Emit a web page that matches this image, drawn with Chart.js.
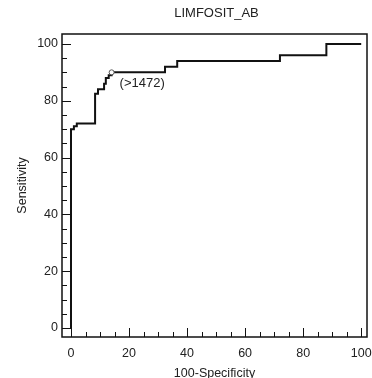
<!DOCTYPE html>
<html>
<head>
<meta charset="utf-8">
<script src="https://cdn.jsdelivr.net/npm/chart.js@4.4.1/dist/chart.umd.min.js"></script>
<style>
  html, body { margin: 0; padding: 0; background: #fff; }
  #wrap { width: 372px; height: 378px; }
</style>
</head>
<body>
<div id="wrap"><canvas id="rocChart" width="372" height="378"></canvas></div>
<script>
// ROC 曲线数据 (100-特异度, 灵敏度)
const fpr = [0, 0, 1, 2, 8.3, 9.3, 11.4, 12, 13, 14, 32.4, 36.6, 72, 88, 100];
const sens = [0, 70, 71, 72, 82.5, 84, 86, 88, 89, 90, 92, 94, 96, 100, 100];
const cutoffIndex = 9;
const cutoffLabel = '(>1472)';
const chartTitle = 'LIMFOSIT_AB';
const xTitle = '100-Specificity';
const yTitle = 'Sensitivity';
const majorStep = 20;
const minorStep = 5;

const FONT = 'Arial, "Liberation Sans", sans-serif';

// 外框、内向刻度、标题和截断点标注
const framePlugin = {
    id: 'frame',
    afterDraw(chart) {
        const ctx = chart.ctx;
        const area = chart.chartArea;
        const xs = chart.scales.x;
        const ys = chart.scales.y;
        ctx.save();
        ctx.strokeStyle = '#111';
        ctx.lineWidth = 1.5;
        ctx.strokeRect(area.left, area.top, area.right - area.left, area.bottom - area.top);

        ctx.lineWidth = 1;
        ctx.beginPath();
        for (let v = 0; v <= 100; v += minorStep) {
            const len = v % majorStep === 0 ? 9 : 5;
            const px = Math.round(xs.getPixelForValue(v)) + 0.5;
            ctx.moveTo(px, area.bottom);
            ctx.lineTo(px, area.bottom - len);
            const py = Math.round(ys.getPixelForValue(v)) + 0.5;
            ctx.moveTo(area.left, py);
            ctx.lineTo(area.left + len, py);
        }
        ctx.stroke();

        // 标题
        ctx.fillStyle = '#222';
        ctx.font = '13px ' + FONT;
        ctx.textAlign = 'center';
        ctx.textBaseline = 'middle';
        ctx.fillText(chartTitle, (area.left + area.right) / 2 + 2, 13);

        // 截断点标注
        const cx = xs.getPixelForValue(fpr[cutoffIndex]);
        const cy = ys.getPixelForValue(sens[cutoffIndex]);
        ctx.font = '13px ' + FONT;
        ctx.textAlign = 'left';
        ctx.fillText(cutoffLabel, cx + 8, cy + 11);
        ctx.restore();
    }
};

const ctx = document.getElementById('rocChart').getContext('2d');
const rocChart = new Chart(ctx, {
    type: 'scatter',
    data: {
        datasets: [{
            data: fpr.map((x, i) => ({ x: x, y: sens[i] })),
            showLine: true,
            stepped: true,
            borderColor: '#111',
            borderWidth: 2,
            pointRadius: c => c.dataIndex === cutoffIndex ? 2.5 : 0,
            pointBorderWidth: 1,
            pointBorderColor: '#555',
            pointBackgroundColor: '#fff'
        }]
    },
    options: {
        responsive: false,
        devicePixelRatio: 1,
        animation: false,
        layout: { padding: { top: 34, right: 5, left: 0, bottom: 0 } },
        plugins: {
            legend: { display: false },
            tooltip: { enabled: false },
            title: { display: false }
        },
        scales: {
            x: {
                type: 'linear',
                min: -3.1,
                max: 102,
                afterFit: s => { s.height = 41; s.paddingLeft = 0; s.paddingRight = 0; },
                grid: { display: false, drawTicks: false },
                border: { display: false },
                ticks: {
                    stepSize: majorStep,
                    includeBounds: false,
                    padding: 9,
                    color: '#222',
                    font: { family: FONT, size: 12.5 }
                },
                title: {
                    display: true,
                    text: xTitle,
                    color: '#222',
                    font: { family: FONT, size: 12.5 },
                    padding: { top: 0, bottom: -3 }
                }
            },
            y: {
                type: 'linear',
                min: -3.2,
                max: 103.5,
                afterFit: s => { s.width = 62; s.paddingTop = 0; s.paddingBottom = 0; },
                grid: { display: false, drawTicks: false },
                border: { display: false },
                ticks: {
                    stepSize: majorStep,
                    includeBounds: false,
                    padding: 4,
                    color: '#222',
                    font: { family: FONT, size: 12.5 }
                },
                title: {
                    display: true,
                    text: yTitle,
                    color: '#222',
                    font: { family: FONT, size: 12.5 },
                    padding: { top: 15, bottom: 0 }
                }
            }
        }
    },
    plugins: [framePlugin]
});
</script>
</body>
</html>
